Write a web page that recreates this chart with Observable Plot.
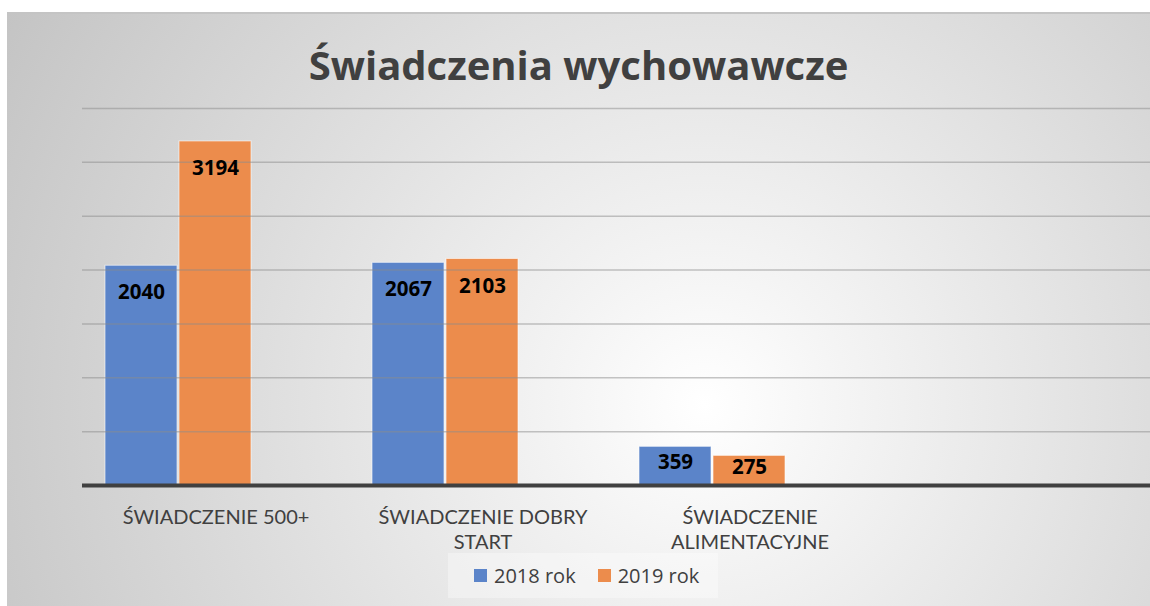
<!DOCTYPE html>
<html><head><meta charset="utf-8">
<script src="https://cdn.jsdelivr.net/npm/d3@7"></script>
<script src="https://cdn.jsdelivr.net/npm/@observablehq/plot@0.6"></script>
<style>
body{margin:0;background:#fff;width:1150px;height:606px;overflow:hidden;position:relative;font-family:"Open Sans",sans-serif}
#bg{position:absolute;left:7px;top:12px;width:1143px;height:594px;background:radial-gradient(circle farthest-corner at 61% 66%, #ffffff 0%, #f4f4f4 18%, #c4c4c4 100%);border-top:2px solid #c4c4c4;box-sizing:border-box}
#title{position:absolute;left:7px;width:1143px;top:45px;text-align:center;font-weight:700;font-size:40px;line-height:40px;color:#404040;margin:0}
#chart{position:absolute;left:0;top:0}
#legend{position:absolute;left:448px;top:553px;width:270px;height:45px;background:rgba(255,255,255,0.35);display:flex;flex-wrap:nowrap;white-space:nowrap;align-items:center;box-sizing:border-box;padding-left:26px;font-size:20px;color:#404040}
#legend .sw{width:13px;height:13px;display:inline-block;margin-right:7px;flex:none}
#legend .it{display:flex;align-items:center;margin-right:22px;flex:none}
</style></head>
<body>
<div id="bg"></div>
<h1 id="title">Świadczenia wychowawcze</h1>
<div id="chart"></div>
<div id="legend"></div>
<script>
const categories = ["ŚWIADCZENIE 500+", "ŚWIADCZENIE DOBRY START", "ŚWIADCZENIE ALIMENTACYJNE"];
const categoryLabels = ["ŚWIADCZENIE 500+", "ŚWIADCZENIE DOBRY\nSTART", "ŚWIADCZENIE\nALIMENTACYJNE"];
const series = ["2018 rok", "2019 rok"];
const values2018 = [2040, 2067, 359];
const values2019 = [3194, 2103, 275];
const yTicks = [0, 500, 1000, 1500, 2000, 2500, 3000, 3500];
const colors = ["#5b84c9", "#ec8c4c"];

const allSlots = [...categories, " "];
const data = categories.flatMap((c, i) => [
  {category: c, series: series[0], value: values2018[i]},
  {category: c, series: series[1], value: values2019[i]}
]);
const labelData = categories.map((c, i) => ({category: c, label: categoryLabels[i]}));
const gridData = allSlots.flatMap(c => yTicks.filter(t => t > 0).map(t => ({category: c, tick: t})));
const baseData = allSlots.map(c => ({category: c, tick: 0}));

const chart = Plot.plot({
  width: 1150, height: 606,
  marginLeft: 82, marginRight: 0, marginTop: 108, marginBottom: 121,
  style: {background: "transparent", fontFamily: "'Open Sans', sans-serif"},
  fx: {domain: allSlots, padding: 0, axis: null},
  x: {domain: [...series, "  "], paddingInner: 0.025, paddingOuter: 0.31, axis: null},
  y: {domain: [0, 3500], axis: null},
  color: {domain: series, range: colors},
  marks: [
    Plot.barY(data, {fx: "category", x: "series", y: "value", fill: "series", stroke: "#ffffff", strokeOpacity: 0.6, strokeWidth: 1}),
    Plot.ruleY(gridData, {fx: "category", y: "tick", stroke: "#8c8c8c", strokeOpacity: 0.5, strokeWidth: 1.5}),
    Plot.ruleY(baseData, {fx: "category", y: "tick", stroke: "#404040", strokeWidth: 4}),
    Plot.text(data.filter(d => d.value > 1000), {fx: "category", x: "series", y: "value", text: d => String(d.value), dy: 27, fontWeight: 700, fontSize: 20.5, fill: "#000"}),
    Plot.text(data.filter(d => d.value <= 1000), {fx: "category", x: "series", y: d => d.value * 0.6, text: d => String(d.value), fontWeight: 700, fontSize: 20.5, fill: "#000"}),
    Plot.text(labelData, {fx: "category", text: "label", frameAnchor: "bottom", lineAnchor: "top", dy: 21, fontSize: 20, fontFamily: "Lato, 'Open Sans', sans-serif", fill: "#404040", lineHeight: 1.25})
  ]
});
document.getElementById("chart").appendChild(chart);

const legend = document.getElementById("legend");
series.forEach((s, i) => {
  const it = document.createElement("div");
  it.className = "it";
  it.innerHTML = `<span class="sw" style="background:${colors[i]}"></span><span>${s}</span>`;
  legend.appendChild(it);
});
</script>
</body></html>
